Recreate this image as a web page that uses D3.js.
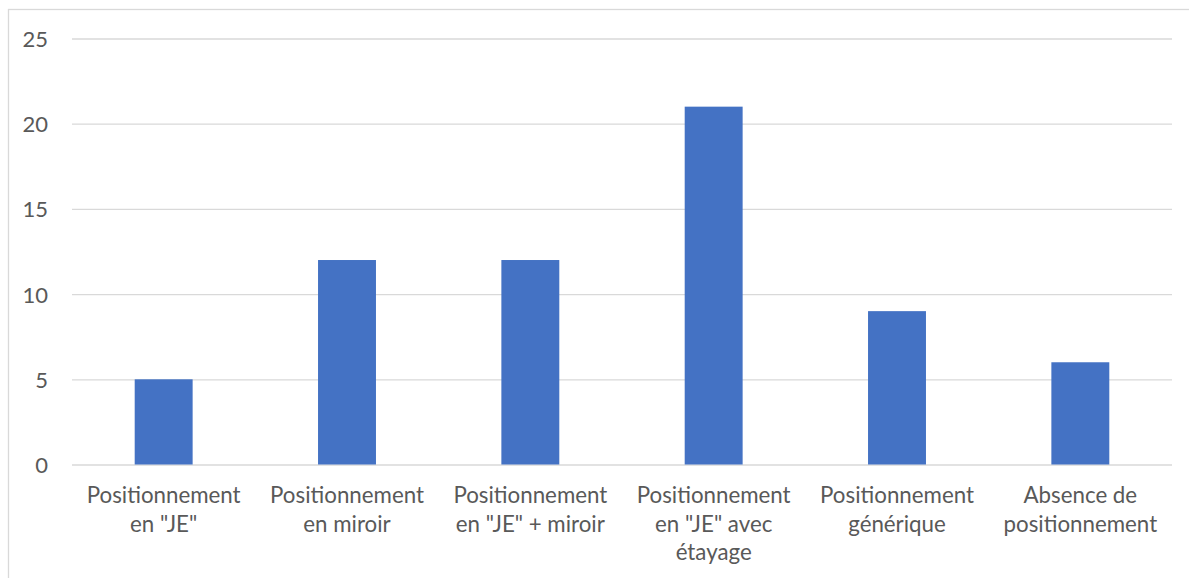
<!DOCTYPE html>
<html>
<head>
<meta charset="utf-8">
<script src="https://cdn.jsdelivr.net/npm/d3@7"></script>
<style>
  html, body { margin:0; padding:0; background:#fff; }
  svg { display:block; }
  text { font-family: Lato, "Open Sans", sans-serif; fill:#595959; }
</style>
</head>
<body>
<svg id="chart" width="1189" height="578"></svg>
<script>
// data
const categories = [
  "Positionnement|en \"JE\"",
  "Positionnement|en miroir",
  "Positionnement|en \"JE\" + miroir",
  "Positionnement|en \"JE\" avec|étayage",
  "Positionnement|générique",
  "Absence de|positionnement"
];
const values = [5, 12, 12, 21, 9, 6];
const yTicks = [0, 5, 10, 15, 20, 25];

const svg = d3.select("#chart");
const W = 1189, H = 578;
const m = { left:72, right:17, top:38.5, bottom:H-464.5 };

// chart border
svg.append("rect").attr("x",8.5).attr("y",9.5).attr("width",W).attr("height",H)
  .attr("fill","none").attr("stroke","#d9d9d9").attr("stroke-width",1.3);

const x = d3.scaleBand().domain(categories).range([m.left, W-m.right]).paddingInner(0.684).paddingOuter(0.342);
const y = d3.scaleLinear().domain([0,25]).range([H-m.bottom, m.top]);

// gridlines
const gy = svg.append("g").attr("transform",`translate(${m.left},0)`)
  .call(d3.axisLeft(y).tickValues(yTicks).tickSize(-(W-m.right-m.left)).tickPadding(24));
gy.select(".domain").remove();
gy.selectAll(".tick line").attr("stroke","#d9d9d9").attr("stroke-width",1.3);
gy.selectAll(".tick text").attr("font-size",22).attr("fill","#595959")
  .style("font-family","Lato, 'Open Sans', sans-serif").attr("dy","0.36em");

// bars
svg.append("g").selectAll("rect").data(values).enter().append("rect")
  .attr("x",(d,i)=> x(categories[i])).attr("width",x.bandwidth())
  .attr("y",d=> y(d)).attr("height",d=> y(0)-y(d)).attr("fill","#4472c4");

// category axis
const gx = svg.append("g").attr("transform",`translate(0,${y(0)})`)
  .call(d3.axisBottom(x).tickSize(0).tickFormat(""));
gx.select(".domain").remove();
gx.selectAll(".tick").each(function(d){
  const lines = d.split("|");
  const t = d3.select(this).append("text").attr("text-anchor","middle")
    .attr("font-size",22.3).attr("fill","#595959");
  lines.forEach((l,i)=> t.append("tspan").attr("x",0).attr("y",38.5 + i*28.5).text(l));
});
</script>
</body>
</html>
